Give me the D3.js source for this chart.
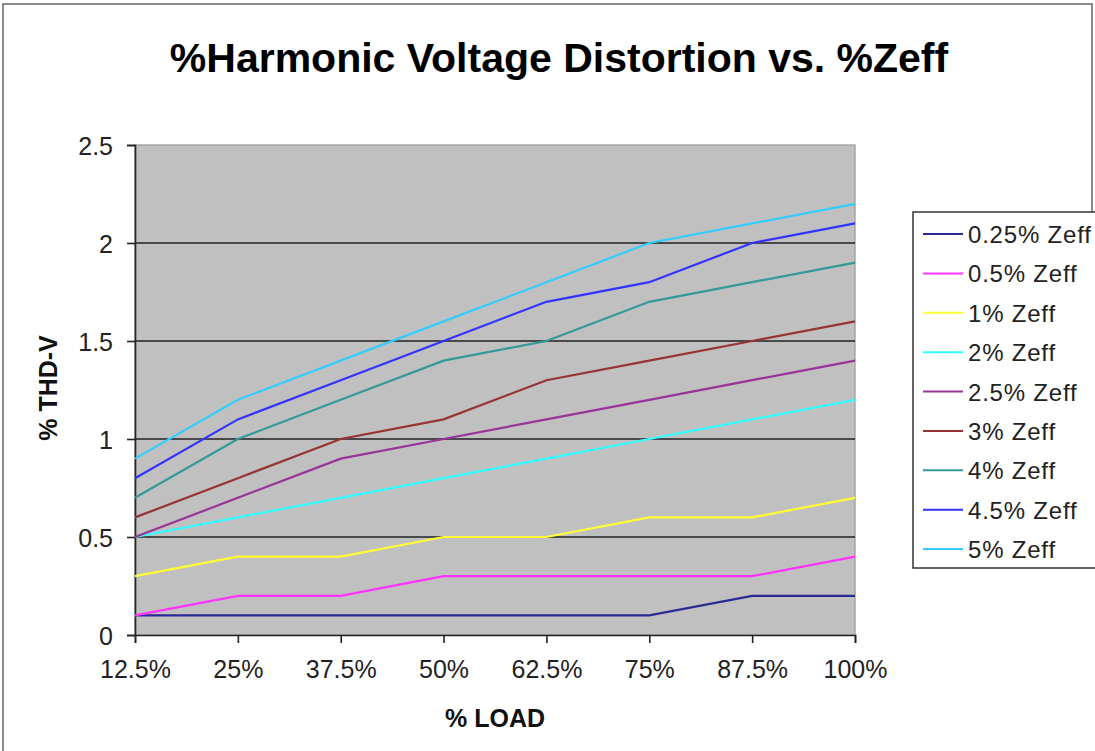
<!DOCTYPE html>
<html><head><meta charset="utf-8">
<script src="https://cdn.jsdelivr.net/npm/d3@7"></script>
<style>body{margin:0;background:#fff;} text{font-family:"Liberation Sans",Arial,sans-serif;}</style>
</head><body>
<svg id="c" width="1095" height="751"></svg>
<script>
const categories = ["12.5%","25%","37.5%","50%","62.5%","75%","87.5%","100%"];
const seriesNames = ["0.25% Zeff","0.5% Zeff","1% Zeff","2% Zeff","2.5% Zeff","3% Zeff","4% Zeff","4.5% Zeff","5% Zeff"];
const s025 = [0.1,0.1,0.1,0.1,0.1,0.1,0.2,0.2];
const s05  = [0.1,0.2,0.2,0.3,0.3,0.3,0.3,0.4];
const s1   = [0.3,0.4,0.4,0.5,0.5,0.6,0.6,0.7];
const s2   = [0.5,0.6,0.7,0.8,0.9,1.0,1.1,1.2];
const s25  = [0.5,0.7,0.9,1.0,1.1,1.2,1.3,1.4];
const s3   = [0.6,0.8,1.0,1.1,1.3,1.4,1.5,1.6];
const s4   = [0.7,1.0,1.2,1.4,1.5,1.7,1.8,1.9];
const s45  = [0.8,1.1,1.3,1.5,1.7,1.8,2.0,2.1];
const s5   = [0.9,1.2,1.4,1.6,1.8,2.0,2.1,2.2];
const yTicks = [0,0.5,1,1.5,2,2.5];
const colors = ["#2a2a96","#ff33ff","#ffff33","#33ffff","#993399","#993333","#339999","#3333ff","#33ccff"];
const allSeries = [s025,s05,s1,s2,s25,s3,s4,s45,s5];

const svg = d3.select("#c");
const FF = "Liberation Sans, Arial, sans-serif";
svg.append("path").attr("d","M3,751 L3,4 L1092,4 L1092,212")
  .attr("fill","none").attr("stroke","#666").attr("stroke-width",1.5);

const L=135, R=855, T=145, B=635;
const x = d3.scalePoint().domain(categories).range([L,R]).padding(0);
const y = d3.scaleLinear().domain([0,2.5]).range([B,T]);

svg.append("rect").attr("x",L).attr("y",T).attr("width",R-L).attr("height",B-T)
  .attr("fill","#c0c0c0").attr("stroke","#a8a8a8").attr("stroke-width",1.5);

svg.append("g").selectAll("line").data(yTicks.filter(d=>d>0 && d<2.5)).join("line")
  .attr("x1",L).attr("x2",R).attr("y1",d=>y(d)).attr("y2",d=>y(d))
  .attr("stroke","#222").attr("stroke-width",1.6);

const ya = svg.append("g").attr("transform",`translate(${L},0)`)
  .call(d3.axisLeft(y).tickValues(yTicks).tickSize(8).tickPadding(14).tickFormat(d=>String(d)));
ya.select(".domain").attr("stroke","#222").attr("stroke-width",1.6);
ya.selectAll(".tick line").attr("stroke","#222").attr("stroke-width",1.6);
ya.selectAll("text").attr("font-size",25).attr("fill","#222").attr("font-family",FF).attr("dy","0.36em");

const xa = svg.append("g").attr("transform",`translate(0,${B})`)
  .call(d3.axisBottom(x).tickSize(8).tickPadding(17));
xa.select(".domain").attr("stroke","#222").attr("stroke-width",1.6);
xa.selectAll(".tick line").attr("stroke","#222").attr("stroke-width",1.6);
xa.selectAll("text").attr("font-size",25).attr("fill","#222").attr("font-family",FF);

const line = d3.line().x((d,i)=>x(categories[i])).y(d=>y(d));
svg.append("g").selectAll("path").data(allSeries).join("path")
  .attr("d",line).attr("fill","none").attr("stroke",(d,i)=>colors[i]).attr("stroke-width",2.2);

svg.append("text").attr("x",559).attr("y",72).attr("text-anchor","middle")
  .attr("font-size",41).attr("font-weight","bold").attr("fill","#000")
  .text("%Harmonic Voltage Distortion vs. %Zeff");
svg.append("text").attr("x",495).attr("y",727).attr("text-anchor","middle")
  .attr("font-size",25).attr("font-weight","bold").attr("fill","#111").text("% LOAD");
svg.append("text").attr("transform","translate(57,388) rotate(-90)").attr("text-anchor","middle")
  .attr("font-size",25).attr("font-weight","bold").attr("fill","#111").text("% THD-V");

const lg = svg.append("g");
lg.append("rect").attr("x",913).attr("y",212).attr("width",200).attr("height",356)
  .attr("fill","#fff").attr("stroke","#333").attr("stroke-width",1.5);
const ly = d3.scalePoint().domain(seriesNames).range([234,549]);
const items = lg.selectAll("g.it").data(seriesNames).join("g").attr("class","it")
  .attr("transform",d=>`translate(0,${ly(d)})`);
items.append("line").attr("x1",923).attr("x2",963).attr("y1",0).attr("y2",0)
  .attr("stroke",(d,i)=>colors[i]).attr("stroke-width",2);
items.append("text").attr("x",968).attr("y",9).attr("font-size",24).attr("fill","#222")
  .attr("letter-spacing",0.8).text(d=>d);
</script>
</body></html>
